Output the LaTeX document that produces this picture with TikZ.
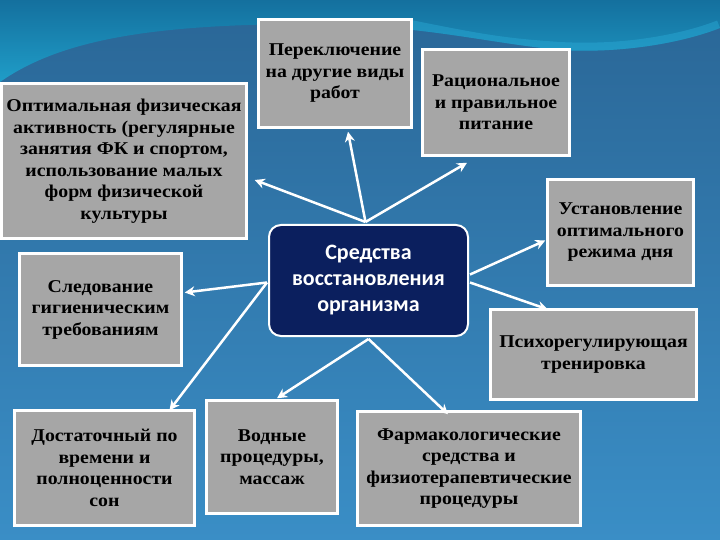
\documentclass[tikz,border=0pt]{standalone}
\usepackage{fontspec}
\setmainfont{Liberation Serif}[FakeStretch=1.1]
\newfontfamily\ctrfont{Carlito}
\usetikzlibrary{arrows.meta,calc}
\definecolor{boxgray}{HTML}{A6A6A6}
\definecolor{navy}{HTML}{0B1F5E}
\definecolor{bgtop}{HTML}{2A6696}
\definecolor{bgbot}{HTML}{3A8EC6}
\definecolor{captop}{HTML}{14709E}
\definecolor{capbot}{HTML}{1F9DC8}
\definecolor{rim}{HTML}{2AAAD6}
\begin{document}
\begin{tikzpicture}[x=1pt,y=-1pt,
  box/.style={draw=white,line width=2.5pt,fill=boxgray,inner sep=0pt,align=center,
    font=\fontsize{18}{21.5}\selectfont\bfseries,text=black},
  ctr/.style={draw=white,line width=2pt,fill=navy,rounded corners=12pt,inner sep=0pt,align=center,
    font=\ctrfont\fontsize{22}{26}\selectfont\bfseries,text=white},
  arr/.style={draw=white,line width=2.5pt,-{Stealth[length=10pt,width=10pt]}},
]
\useasboundingbox (0,0) rectangle (720,540);
% background
\shade[top color=bgtop,bottom color=bgbot] (0,0) rectangle (720,540);
\shade[top color=captop,bottom color=capbot] (0,0) -- (0,82) .. controls (60,40) and (150,25) .. (300,24) .. controls (420,24) and (480,42) .. (560,50) .. controls (630,54) and (690,40) .. (720,28) -- (720,0) -- cycle;
\begin{scope}
\clip (0,0) -- (0,82) .. controls (60,40) and (150,25) .. (300,24) .. controls (420,24) and (480,42) .. (560,50) .. controls (630,54) and (690,40) .. (720,28) -- (720,0) -- cycle;
\draw[rim,line width=16pt,opacity=0.45] (400,26) .. controls (480,42) and (500,46) .. (560,50) .. controls (630,54) and (690,40) .. (720,28);
\end{scope}
% nodes
\node[ctr,minimum width=199pt,minimum height=111pt] (c) at (368.5,280.5) {Средства\\восстановления\\организма};
\node[box,minimum width=245pt,minimum height=155pt] (b1) at (124,161) {Оптимальная физическая\\активность (регулярные\\занятия ФК и спортом,\\использование малых\\форм физической\\культуры};
\node[box,minimum width=153pt,minimum height=108pt] (b2) at (335,73.5) {Переключение\\на другие виды\\работ};
\node[box,minimum width=147pt,minimum height=106pt] (b3) at (496,102.5) {Рациональное\\и правильное\\питание};
\node[box,minimum width=146pt,minimum height=106pt] (b4) at (620.5,232.5) {Установление\\оптимального\\режима дня};
\node[box,minimum width=206pt,minimum height=90pt] (b5) at (593.5,354.5) {Психорегулирующая\\тренировка};
\node[box,minimum width=223pt,minimum height=114pt] (b6) at (469,468.5) {Фармакологические\\средства и\\физиотерапевтические\\процедуры};
\node[box,minimum width=131pt,minimum height=113pt] (b7) at (272,457) {Водные\\процедуры,\\массаж};
\node[box,minimum width=180pt,minimum height=115pt] (b8) at (104.5,468) {Достаточный по\\времени и\\полноценности\\сон};
\node[box,minimum width=162pt,minimum height=112pt] (b9) at (100.5,309.5) {Следование\\гигиеническим\\требованиям};
% arrows
\draw[arr] ($(c.north)+(-3,-2)$) -- ($(b2.south)+(13,3)$);
\draw[arr] ($(c.north)+(-3,-2)$) -- ($(b3.south)+(-29,6)$);
\draw[arr] ($(c.north)+(-3,-2)$) -- ($(b1.east)+(7,19)$);
\draw[arr] ($(c.east)+(1,-6)$) -- ($(b4.west)+(-1,8)$);
\draw[arr] ($(c.east)+(1,2)$) -- ($(b5.north)+(-46,1)$);
\draw[arr] ($(c.south)+(0,2)$) -- ($(b6.north)+(-21,4)$);
\draw[arr] ($(c.south)+(0,2)$) -- ($(b7.north)+(5,-1)$);
\draw[arr] ($(c.west)+(-1,2)$) -- ($(b8.north)+(65,1)$);
\draw[arr] ($(c.west)+(-1,2)$) -- ($(b9.east)+(2,-17)$);
\end{tikzpicture}
\end{document}
